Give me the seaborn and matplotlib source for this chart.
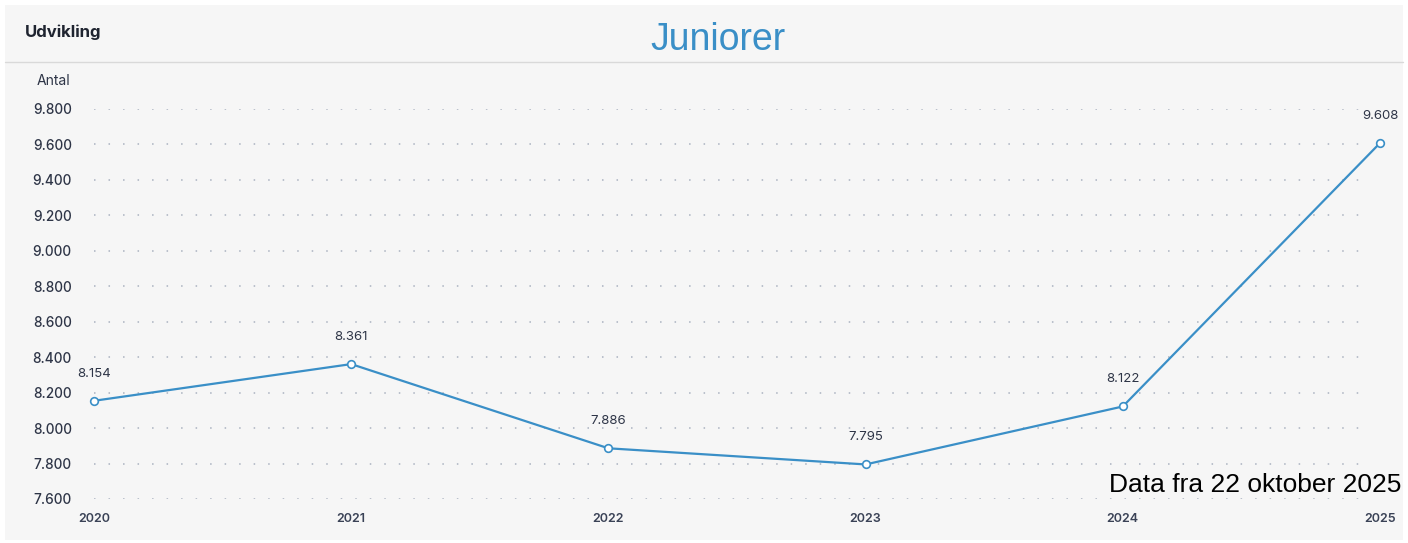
import matplotlib.pyplot as plt
import seaborn as sns
import pandas as pd
from matplotlib.patches import Rectangle
from matplotlib.lines import Line2D
from matplotlib.ticker import FixedLocator, FuncFormatter

years = [2020, 2021, 2022, 2023, 2024, 2025]
members = [8154, 8361, 7886, 7795, 8122, 9608]
y_ticks = [7600, 7800, 8000, 8200, 8400, 8600, 8800, 9000, 9200, 9400, 9600, 9800]

BLUE = '#3a8fc7'
TEXT = '#2e3547'

sns.set_theme(style='white')
plt.rcParams['font.family'] = ['Inter', 'DejaVu Sans']

df = pd.DataFrame({'year': years, 'antal': members})

fig = plt.figure(figsize=(14.08, 5.43), dpi=100, facecolor='white')
# grey card with header line
fig.patches.append(Rectangle((5 / 1408, 3 / 543), 1398 / 1408, 535 / 543,
                             transform=fig.transFigure, facecolor='#f6f6f6',
                             edgecolor='none', zorder=-10))
fig.lines.append(Line2D([5 / 1408, 1403 / 1408], [1 - 62 / 543, 1 - 62 / 543],
                        transform=fig.transFigure, color='#d9d9d9', lw=1, zorder=-5))

ax = fig.add_axes([94 / 1408, 1 - 499 / 543, (1380 - 94) / 1408, (499 - 109) / 543])
ax.set_facecolor('none')
ax.set_zorder(5)

sns.lineplot(data=df, x='year', y='antal', ax=ax, color=BLUE, lw=1.6,
             marker='o', markersize=5.5, markerfacecolor='white',
             markeredgecolor=BLUE, markeredgewidth=1.2, clip_on=False, zorder=5)

ax.set_xlim(2020, 2025)
ax.set_ylim(7600, 9800)
ax.yaxis.set_major_locator(FixedLocator(y_ticks))
ax.xaxis.set_major_locator(FixedLocator(years))
ax.yaxis.set_major_formatter(FuncFormatter(lambda v, p: f'{int(v):,}'.replace(',', '.')))
ax.tick_params(axis='y', length=0, pad=16, labelsize=9.8, labelcolor=TEXT)
ax.tick_params(axis='x', length=0, pad=10, labelsize=9, labelcolor='#3a4256')
for lab in ax.get_xticklabels():
    lab.set_fontweight('semibold')
for lab in ax.get_yticklabels():
    lab.set_fontweight('medium')
ax.set_xlabel('')
ax.set_ylabel('')

# dotted guide lines, stopping a bit before the last year
for y in y_ticks:
    ax.plot([2020, 2024.96], [y, y], color='#aab2c0', lw=1.1,
            ls=(0, (1, 8.5)), zorder=1)
sns.despine(ax=ax, left=True, bottom=True)

for x, y in zip(years, members):
    ax.annotate(f'{y:,}'.replace(',', '.'), (x, y), xytext=(0, 19.5),
                textcoords='offset points', ha='center', va='center',
                fontsize=9.5, color=TEXT, annotation_clip=False)

fig.text(37 / 1408, 1 - 81 / 543, 'Antal', fontsize=10, color=TEXT, va='center')
fig.text(25 / 1408, 1 - 32 / 543, 'Udvikling', fontsize=12, fontweight='bold',
         color='#1f2430', va='center')
fig.text(718 / 1408, 1 - 40 / 543, 'Juniorer', fontsize=27, color=BLUE,
         ha='center', va='center', family='Liberation Sans')
fig.text(1401 / 1408, 1 - 485 / 543, 'Data fra 22 oktober 2025', fontsize=19,
         color='black', ha='right', va='center', family='Liberation Sans', zorder=10)

fig.savefig('out.png', dpi=100, facecolor=fig.get_facecolor())
